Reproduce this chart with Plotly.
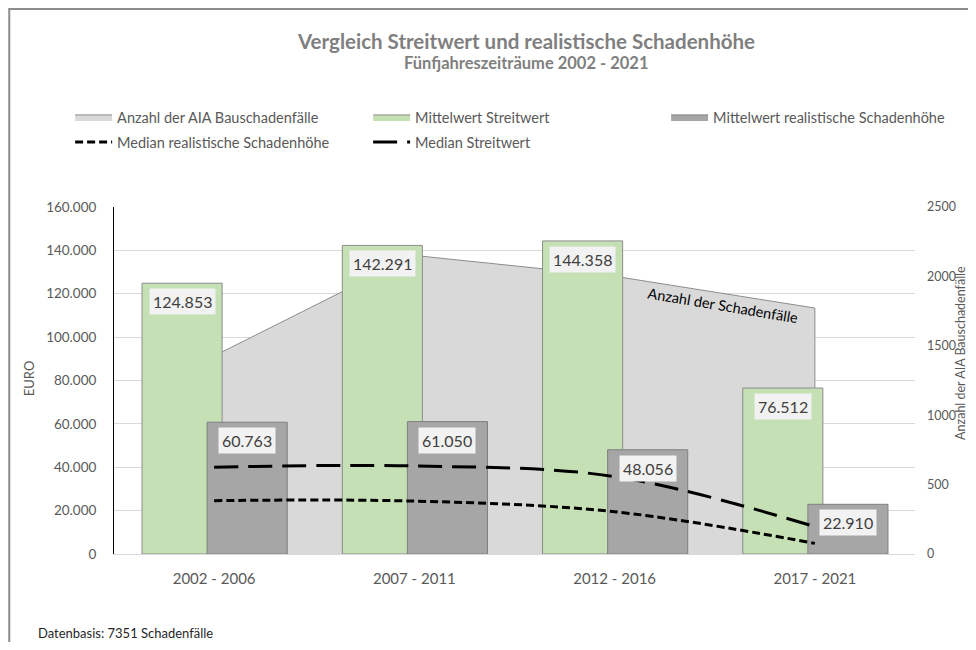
import plotly.graph_objects as go

# ---------------- data ----------------
categories = ["2002 - 2006", "2007 - 2011", "2012 - 2016", "2017 - 2021"]
anzahl_faelle = [1427, 2151, 2001, 1772]            # right axis (area)
mittelwert_streitwert = [124853, 142291, 144358, 76512]
mittelwert_schaden = [60763, 61050, 48056, 22910]
median_schaden = [24600, 24400, 19500, 4900]
median_streitwert = [40000, 40600, 35700, 12600]
left_ticks = [0, 20000, 40000, 60000, 80000, 100000, 120000, 140000, 160000]
right_ticks = [0, 500, 1000, 1500, 2000, 2500]

FONT = "Lato"
OFF = 8                      # default page margin of the html body
W, H = 976 - 2 * OFF, 650 - 2 * OFF
PLOT_L, PLOT_R, PLOT_T, PLOT_B = 114, 917, 207, 554   # page pixels
L = PLOT_L - OFF
T = PLOT_T - OFF
R = W - (PLOT_R - OFF)
B = H - (PLOT_B - OFF)
PW, PH = PLOT_R - PLOT_L, PLOT_B - PLOT_T

GREEN, GREEN_LINE = "#c5e0b4", "#8c8c8c"
GRAY, GRAY_LINE = "#a6a6a6", "#7f7f7f"
AREA, AREA_LINE = "#d9d9d9", "#8c8c8c"


def de(v):
    return f"{v:,}".replace(",", ".")


def px(xp):
    """page x pixel -> paper coordinate"""
    return (xp - PLOT_L) / PW


def py(yp):
    """page y pixel -> paper coordinate"""
    return (PLOT_B - yp) / PH


fig = go.Figure()

# Area (number of cases) on base axis y (right side) -> drawn below everything
fig.add_trace(go.Scatter(
    x=[categories[0]] + categories + [categories[-1]],
    y=[0] + anzahl_faelle + [0],
    mode="lines", fill="toself", fillcolor=AREA,
    line=dict(color=AREA_LINE, width=1),
    name="Anzahl der AIA Bauschadenfälle", yaxis="y", legend="legend",
    hoverinfo="skip",
))

fig.add_trace(go.Bar(
    x=categories, y=mittelwert_streitwert, width=0.4, offset=-0.36,
    marker=dict(color=GREEN, line=dict(color=GREEN_LINE, width=1)),
    name="Mittelwert Streitwert", yaxis="y2", legendgroup="mw_streit",
    showlegend=False,
))
fig.add_trace(go.Bar(
    x=categories, y=mittelwert_schaden, width=0.4, offset=-0.035,
    marker=dict(color=GRAY, line=dict(color=GRAY_LINE, width=1)),
    name="Mittelwert realistische Schadenhöhe", yaxis="y2",
    legendgroup="mw_schaden", showlegend=False,
))

# legend entries for the bars drawn as wide swatches (like the original)
fig.add_trace(go.Scatter(
    x=[None], y=[None], mode="lines", fill="toself", fillcolor=GREEN,
    line=dict(color=GREEN_LINE, width=1), name="Mittelwert Streitwert",
    yaxis="y2", legend="legend", legendgroup="mw_streit", hoverinfo="skip",
))
fig.add_trace(go.Scatter(
    x=[None], y=[None], mode="lines", fill="toself", fillcolor=GRAY,
    line=dict(color=GRAY_LINE, width=1),
    name="Mittelwert realistische Schadenhöhe", legendwidth=236,
    yaxis="y2", legend="legend", legendgroup="mw_schaden", hoverinfo="skip",
))

fig.add_trace(go.Scatter(
    x=categories, y=median_schaden, mode="lines",
    line=dict(color="black", width=3, dash="8px,4px", shape="spline"),
    name="Median realistische Schadenhöhe", yaxis="y2", legend="legend2",
))
fig.add_trace(go.Scatter(
    x=categories, y=median_streitwert, mode="lines",
    line=dict(color="black", width=3, dash="24px,10px", shape="spline"),
    name="Median Streitwert", yaxis="y2", legend="legend2",
))

annotations = []
label_font = dict(family=FONT, size=16, color="#404040")
for cat, v in zip(categories, mittelwert_streitwert):
    annotations.append(dict(x=cat, y=v, xref="x", yref="y2", text=de(v),
                            xshift=-32, yshift=-5, yanchor="top", showarrow=False,
                            bgcolor="#f2f2f2", borderpad=3, font=label_font))
for cat, v in zip(categories, mittelwert_schaden):
    annotations.append(dict(x=cat, y=v, xref="x", yref="y2", text=de(v),
                            xshift=33, yshift=-5, yanchor="top", showarrow=False,
                            bgcolor="#f2f2f2", borderpad=3, font=label_font))

annotations += [
    dict(text="<b>Vergleich Streitwert und realistische Schadenhöhe</b>",
         xref="paper", yref="paper", x=px(527), y=py(41), showarrow=False,
         xanchor="center", yanchor="middle",
         font=dict(family=FONT, size=20.5, color="#7f7f7f")),
    dict(text="<b>Fünfjahreszeiträume 2002 - 2021</b>",
         xref="paper", yref="paper", x=px(527), y=py(63), showarrow=False,
         xanchor="center", yanchor="middle",
         font=dict(family=FONT, size=16.5, color="#7f7f7f")),
    dict(text="EURO", xref="paper", yref="paper", x=px(29), y=py(378),
         showarrow=False, textangle=-90, xanchor="center", yanchor="middle",
         font=dict(family=FONT, size=13, color="#595959")),
    dict(text="Anzahl der AIA Bauschadenfälle", xref="paper", yref="paper",
         x=px(962), y=py(353), showarrow=False, textangle=-90,
         xanchor="center", yanchor="middle",
         font=dict(family=FONT, size=12.5, color="#595959")),
    dict(text="Anzahl der Schadenfälle", xref="paper", yref="paper",
         x=px(725), y=py(305), showarrow=False, textangle=9.5,
         xanchor="center", yanchor="middle",
         font=dict(family=FONT, size=14.5, color="#000000")),
    dict(text="Datenbasis: 7351 Schadenfälle", xref="paper", yref="paper",
         x=px(36), y=py(633), showarrow=False, xanchor="left", yanchor="middle",
         font=dict(family=FONT, size=13, color="#262626")),
]

legend_common = dict(orientation="h", x=px(70), xanchor="left",
                     yanchor="middle", entrywidth=246, entrywidthmode="pixels",
                     itemwidth=37, bgcolor="rgba(0,0,0,0)", traceorder="normal",
                     font=dict(family=FONT, size=14.5, color="#595959"))

fig.update_layout(
    width=W, height=H, autosize=False,
    margin=dict(l=L, r=R, t=T, b=B, pad=0),
    paper_bgcolor="white", plot_bgcolor="white",
    font=dict(family=FONT, size=13, color="#595959"),
    barmode="overlay",
    showlegend=True,
    xaxis=dict(type="category", categoryorder="array", categoryarray=categories,
               range=[-0.5, 3.5], showgrid=False, zeroline=False,
               showline=True, linecolor="#d9d9d9", linewidth=1, ticks="",
               ticklabelstandoff=11,
               tickfont=dict(family=FONT, size=15, color="#595959")),
    yaxis=dict(range=[0, 2500], side="right", tickvals=right_ticks,
               ticktext=[str(v) for v in right_ticks],
               showgrid=False, zeroline=False, showline=False, ticks="",
               ticklabelstandoff=11,
               tickfont=dict(family=FONT, size=12.5, color="#595959")),
    yaxis2=dict(range=[0, 160000], overlaying="y", side="left",
                tickvals=left_ticks, ticktext=[de(v) for v in left_ticks],
                showgrid=True, gridcolor="#d9d9d9", gridwidth=1,
                zeroline=False, showline=True, linecolor="#000000", linewidth=1,
                ticks="", ticklabelstandoff=14,
                tickfont=dict(family=FONT, size=13.5, color="#595959")),
    legend=dict(legend_common, y=py(117)),
    legend2=dict(legend_common, y=py(142)),
    annotations=annotations,
    shapes=[dict(type="rect", xref="paper", yref="paper",
                 x0=px(9), x1=px(1100), y0=py(800), y1=py(9),
                 line=dict(color="#8c8c8c", width=2), fillcolor="rgba(0,0,0,0)",
                 layer="below")],
)

fig.write_html("out.html")
